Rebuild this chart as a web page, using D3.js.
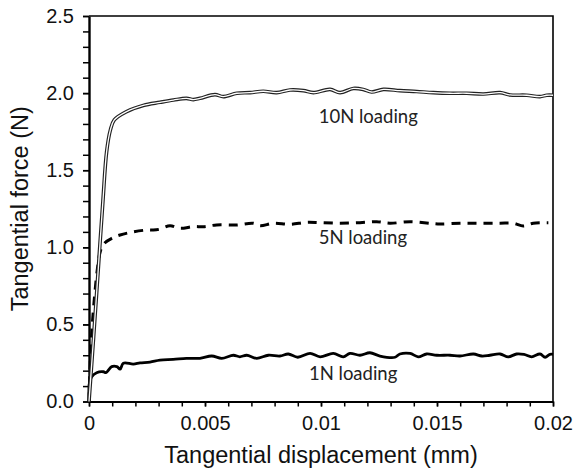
<!DOCTYPE html>
<html>
<head>
<meta charset="utf-8">
<script src="https://cdn.jsdelivr.net/npm/d3@7"></script>
<style>
  body { margin: 0; background: #fff; }
  svg { display: block; }
</style>
</head>
<body>
<svg id="chart" width="580" height="472"></svg>
<script>
// tick labels
const xTicks = [0, 0.005, 0.01, 0.015, 0.02];
const xTickLabels = ["0", "0.005", "0.01", "0.015", "0.02"];
const yTicks = [0, 0.5, 1.0, 1.5, 2.0, 2.5];
const yTickLabels = ["0.0", "0.5", "1.0", "1.5", "2.0", "2.5"];

// 10N loading (double line)
const disp10N = [0, 0.0002, 0.0004, 0.0006, 0.00076, 0.00092, 0.00109, 0.00162, 0.00234, 0.00306, 0.00364, 0.0042, 0.0045, 0.00478,
  0.00543, 0.00579, 0.00637, 0.00694, 0.00751, 0.00809, 0.00866, 0.00924, 0.00967, 0.01039, 0.01082, 0.01139, 0.01182,
  0.01218, 0.01269, 0.0134, 0.01412, 0.01484, 0.01556, 0.01628, 0.017, 0.01772, 0.01815, 0.01887, 0.01944, 0.01973, 0.02];
const force10N = [0, 0.42, 0.86, 1.3, 1.62, 1.76, 1.826, 1.88, 1.92, 1.94, 1.955, 1.966, 1.958, 1.966,
  1.99, 1.977, 1.999, 2.003, 2.012, 2.003, 2.02, 2.016, 2.003, 2.024, 2.003, 2.03, 2.024,
  2.007, 2.024, 2.016, 2.01, 2.003, 1.999, 1.999, 1.994, 2.003, 1.988, 1.986, 1.977, 1.986, 1.986];

// 5N loading (dashed)
const disp5N = [0, 0.00004, 0.00012, 0.00025, 0.00038, 0.0005, 0.00069, 0.00098, 0.00134, 0.00191, 0.00249, 0.00277, 0.00306,
  0.00349, 0.00392, 0.0045, 0.00493, 0.0055, 0.00637, 0.00708, 0.00737, 0.00795, 0.00866, 0.00938, 0.00996, 0.01082,
  0.01168, 0.0124, 0.01297, 0.01384, 0.0147, 0.01513, 0.01599, 0.01685, 0.01772, 0.01829, 0.01872, 0.01915, 0.0198];
const force5N = [0, 0.2, 0.45, 0.7, 0.88, 0.98, 1.03, 1.058, 1.08, 1.1, 1.112, 1.112, 1.118,
  1.14, 1.123, 1.134, 1.134, 1.145, 1.145, 1.156, 1.14, 1.156, 1.149, 1.162, 1.16, 1.156,
  1.16, 1.166, 1.156, 1.166, 1.156, 1.151, 1.156, 1.156, 1.156, 1.156, 1.138, 1.156, 1.16];

// 1N loading (solid)
const disp1N = [0, 0, 0.00002, 0.00011, 0.00033, 0.00062, 0.00073, 0.00098, 0.0012, 0.00134, 0.00148, 0.00191, 0.0022,
  0.00263, 0.00306, 0.00363, 0.0042, 0.00478, 0.00529, 0.00572, 0.00622, 0.0065, 0.0068, 0.00723, 0.00773, 0.00823,
  0.00859, 0.009, 0.00953, 0.00996, 0.01053, 0.01096, 0.01125, 0.01168, 0.01211, 0.01254, 0.01319, 0.0134, 0.01384,
  0.01419, 0.01455, 0.01499, 0.01556, 0.01599, 0.01657, 0.01693, 0.01728, 0.01772, 0.01807, 0.01843, 0.01875, 0.01908,
  0.01944, 0.01966, 0.01987, 0.02];
const force1N = [0, 0.1, 0.12, 0.16, 0.187, 0.193, 0.187, 0.226, 0.226, 0.21, 0.248, 0.243, 0.25,
  0.256, 0.269, 0.273, 0.28, 0.28, 0.295, 0.28, 0.3, 0.29, 0.3, 0.28, 0.3, 0.295,
  0.308, 0.287, 0.312, 0.29, 0.312, 0.29, 0.312, 0.3, 0.316, 0.295, 0.287, 0.308, 0.312,
  0.29, 0.308, 0.3, 0.3, 0.295, 0.308, 0.295, 0.3, 0.308, 0.29, 0.308, 0.305, 0.29,
  0.308, 0.287, 0.306, 0.306];

// curve labels, anchored in data units
const labels = ["10N loading", "5N loading", "1N loading"];
const labelX = [0.0099, 0.0099, 0.00948];
const labelY = [1.806, 1.021, 0.139];

const svg = d3.select("#chart");

const x = d3.scaleLinear().domain([0, 0.02]).range([89, 553]);
const y = d3.scaleLinear().domain([0, 2.5]).range([401.5, 16]);

const tickFont = "'Liberation Sans', Arial, sans-serif";

// frame (top + right)
svg.append("path")
  .attr("d", `M${x(0)},${y(2.5)}H${x(0.02)}V${y(0)}`)
  .attr("fill", "none").attr("stroke", "#000").attr("stroke-width", 1.6);

// minor ticks
svg.append("g")
  .attr("transform", `translate(0,${y(0)})`)
  .call(d3.axisBottom(x).tickValues(d3.range(0, 0.02001, 0.001)).tickSize(5).tickFormat(""))
  .call(g => g.select(".domain").remove())
  .call(g => g.selectAll("line").attr("stroke-width", 1.5));
svg.append("g")
  .attr("transform", `translate(${x(0)},0)`)
  .call(d3.axisLeft(y).tickValues(d3.range(0, 2.501, 0.1)).tickSize(6).tickFormat(""))
  .call(g => g.select(".domain").remove())
  .call(g => g.selectAll("line").attr("stroke-width", 1.5));

// major axes
svg.append("g")
  .attr("transform", `translate(0,${y(0)})`)
  .call(d3.axisBottom(x).tickValues(xTicks).tickSize(5).tickSizeOuter(0).tickPadding(9)
    .tickFormat((d, i) => xTickLabels[i]))
  .call(g => g.select(".domain").attr("stroke-width", 2.2))
  .call(g => g.selectAll("line").attr("stroke-width", 1.5))
  .call(g => g.selectAll("text").attr("font-family", tickFont).attr("font-size", 20).attr("fill", "#111"));

svg.append("g")
  .attr("transform", `translate(${x(0)},0)`)
  .call(d3.axisLeft(y).tickValues(yTicks).tickSize(6).tickSizeOuter(0).tickPadding(9)
    .tickFormat((d, i) => yTickLabels[i]))
  .call(g => g.select(".domain").attr("stroke-width", 2.4))
  .call(g => g.selectAll("line").attr("stroke-width", 1.5))
  .call(g => g.selectAll("text").attr("font-family", tickFont).attr("font-size", 20).attr("fill", "#111"));

// lines
const line = d3.line().x(d => x(d[0])).y(d => y(d[1])).curve(d3.curveCatmullRom.alpha(0.5));
const pts10 = d3.zip(disp10N, force10N);
const pts5 = d3.zip(disp5N, force5N);
const pts1 = d3.zip(disp1N, force1N);

svg.append("path").datum(pts1).attr("d", line)
  .attr("fill", "none").attr("stroke", "#000").attr("stroke-width", 2.8);

svg.append("path").datum(pts5).attr("d", line)
  .attr("fill", "none").attr("stroke", "#000").attr("stroke-width", 3)
  .attr("stroke-dasharray", "9,7");

svg.append("path").datum(pts10).attr("d", line)
  .attr("fill", "none").attr("stroke", "#222").attr("stroke-width", 3.6);
svg.append("path").datum(pts10).attr("d", line)
  .attr("fill", "none").attr("stroke", "#fff").attr("stroke-width", 1.3);

// curve labels
svg.selectAll("text.lbl")
  .data(labels)
  .enter()
  .append("text")
  .attr("class", "lbl")
  .attr("x", (d, i) => x(labelX[i]))
  .attr("y", (d, i) => y(labelY[i]))
  .attr("font-family", "Lato, 'Noto Sans', sans-serif")
  .attr("font-size", 18.5)
  .attr("fill", "#222")
  .text(d => d);

// axis titles
svg.append("text")
  .attr("x", (x(0) + x(0.02)) / 2)
  .attr("y", 463)
  .attr("text-anchor", "middle")
  .attr("font-family", tickFont)
  .attr("font-size", 23.5)
  .attr("fill", "#111")
  .text("Tangential displacement (mm)");

svg.append("text")
  .attr("transform", `translate(28,${(y(0) + y(2.5)) / 2}) rotate(-90)`)
  .attr("text-anchor", "middle")
  .attr("font-family", tickFont)
  .attr("font-size", 23.5)
  .attr("fill", "#111")
  .text("Tangential force (N)");
</script>
</body>
</html>
